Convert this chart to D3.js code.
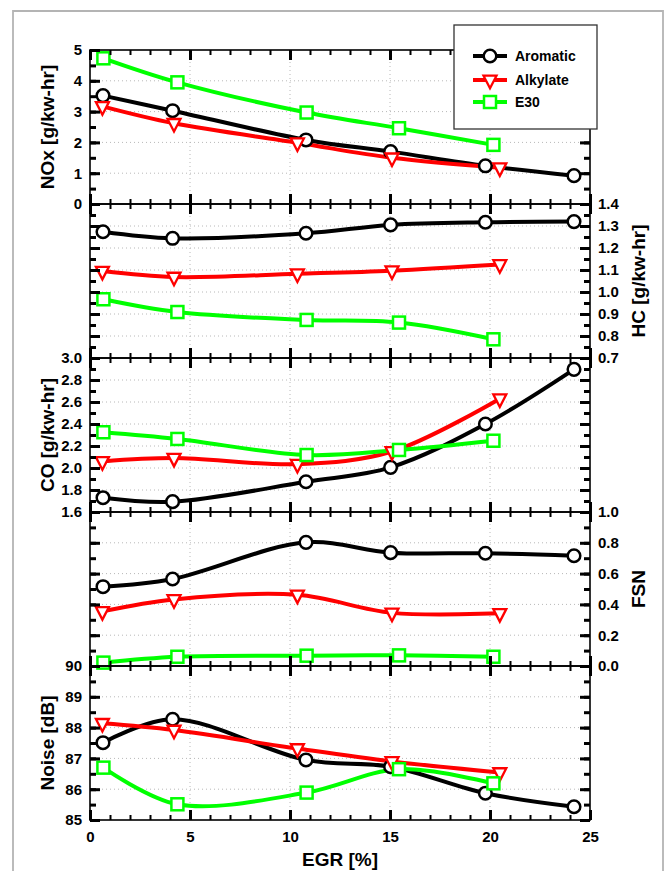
<!DOCTYPE html>
<html>
<head>
<meta charset="utf-8">
<script src="https://cdn.jsdelivr.net/npm/d3@7"></script>
<style>
  body { margin: 0; background: #fff; }
  svg text { font-family: "Liberation Sans", Arial, sans-serif; font-weight: bold; fill: #000; }
</style>
</head>
<body>
<svg id="chart" width="665" height="871"></svg>
<script>
// EGR rate for each fuel's operating points
const egrTicks = [0, 5, 10, 15, 20, 25];
const egrAromatic = [0.65, 4.13, 10.8, 15.03, 19.77, 24.2];
const egrAlkylate = [0.62, 4.2, 10.37, 15.1, 20.49];
const egrE30 = [0.67, 4.37, 10.83, 15.45, 20.17];

// NOx [g/kw-hr]
const noxAromatic = [3.52, 3.03, 2.08, 1.70, 1.24, 0.92];
const noxAlkylate = [3.17, 2.62, 1.99, 1.50, 1.18];
const noxE30 = [4.73, 3.95, 2.97, 2.46, 1.92];

// HC [g/kw-hr]
const hcAromatic = [1.274, 1.244, 1.267, 1.305, 1.317, 1.320];
const hcAlkylate = [1.095, 1.068, 1.083, 1.097, 1.125];
const hcE30 = [0.967, 0.909, 0.873, 0.861, 0.785];

// CO [g/kw-hr]
const coAromatic = [1.73, 1.694, 1.875, 2.006, 2.40, 2.897];
const coAlkylate = [2.06, 2.09, 2.035, 2.15, 2.63];
const coE30 = [2.325, 2.264, 2.118, 2.164, 2.248];

// Filter smoke number
const fsnAromatic = [0.515, 0.565, 0.803, 0.736, 0.732, 0.716];
const fsnAlkylate = [0.355, 0.432, 0.462, 0.345, 0.342];
const fsnE30 = [0.022, 0.06, 0.067, 0.069, 0.06];

// Combustion noise [dB]
const noiseAromatic = [87.51, 88.27, 86.95, 86.73, 85.87, 85.43];
const noiseAlkylate = [88.14, 87.92, 87.32, 86.9, 86.54];
const noiseE30 = [86.7, 85.51, 85.89, 86.65, 86.19];

// Axis tick labels
const noxTicks = [0, 1, 2, 3, 4, 5];
const hcTicks = [0.7, 0.8, 0.9, 1.0, 1.1, 1.2, 1.3, 1.4];
const coTicks = [1.6, 1.8, 2.0, 2.2, 2.4, 2.6, 2.8, 3.0];
const fsnTicks = [0.0, 0.2, 0.4, 0.6, 0.8, 1.0];
const noiseTicks = [85, 86, 87, 88, 89, 90];

const fuels = ["Aromatic", "Alkylate", "E30"];
const fuelColors = ["#000000", "#ff0000", "#00ff00"];
const fuelSymbols = ["circle", "triangle", "square"];
const fuelEgr = [egrAromatic, egrAlkylate, egrE30];

const panels = [
  { title: "NOx [g/kw-hr]", side: "left", ticks: noxTicks, minor: 0.5, fmt: d3.format("d"),
    series: [noxAromatic, noxAlkylate, noxE30] },
  { title: "HC [g/kw-hr]", side: "right", ticks: hcTicks, minor: 0.05, fmt: d3.format(".1f"),
    series: [hcAromatic, hcAlkylate, hcE30] },
  { title: "CO [g/kw-hr]", side: "left", ticks: coTicks, minor: 0.1, fmt: d3.format(".1f"),
    series: [coAromatic, coAlkylate, coE30] },
  { title: "FSN", side: "right", ticks: fsnTicks, minor: 0.1, fmt: d3.format(".1f"),
    series: [fsnAromatic, fsnAlkylate, fsnE30] },
  { title: "Noise [dB]", side: "left", ticks: noiseTicks, minor: 0.5, fmt: d3.format("d"),
    series: [noiseAromatic, noiseAlkylate, noiseE30] }
];

const svg = d3.select("#chart");
const plotLeft = 90, plotRight = 590, plotTop = 50, panelH = 154;

// outer frame of the figure
svg.append("path")
  .attr("d", `M13,871 V11 H663 V871`)
  .attr("fill", "none").attr("stroke", "#b4b4b4").attr("stroke-width", 1.8);

const x = d3.scaleLinear().domain([0, 25]).range([plotLeft, plotRight]);
const xMinor = d3.range(0, 25.01, 1);

function drawSymbol(g, type, cx, cy, color) {
  if (type === "circle") {
    g.append("circle").attr("cx", cx).attr("cy", cy).attr("r", 6.3)
      .attr("fill", "#fff").attr("stroke", color).attr("stroke-width", 2.5);
  } else if (type === "square") {
    g.append("rect").attr("x", cx - 6).attr("y", cy - 6).attr("width", 12).attr("height", 12)
      .attr("fill", "#fff").attr("stroke", color).attr("stroke-width", 2.5);
  } else {
    g.append("path")
      .attr("d", `M${cx - 6.5},${cy - 4.3} L${cx + 6.5},${cy - 4.3} L${cx},${cy + 8.3} Z`)
      .attr("fill", "#fff").attr("stroke", color).attr("stroke-width", 2.3)
      .attr("stroke-linejoin", "miter");
  }
}

function styleAxis(sel, width) {
  sel.select(".domain").remove();
  sel.selectAll(".tick line").attr("stroke", "#000").attr("stroke-width", width);
  sel.selectAll(".tick text").style("font-size", "15px").attr("fill", "#000");
}

panels.forEach((p, i) => {
  const top = plotTop + i * panelH, bottom = top + panelH;
  const dom = [p.ticks[0], p.ticks[p.ticks.length - 1]];
  const y = d3.scaleLinear().domain(dom).range([bottom, top]);
  const minor = d3.range(dom[0], dom[1] + p.minor / 2, p.minor);
  const g = svg.append("g");

  // dotted grid at major ticks
  const grid = g.append("g").attr("stroke", "#b8b8b8").attr("stroke-width", 1)
    .attr("stroke-dasharray", "1,3");
  egrTicks.slice(1, -1).forEach(v => {
    grid.append("line").attr("x1", x(v)).attr("x2", x(v)).attr("y1", top).attr("y2", bottom);
  });
  p.ticks.slice(1, -1).forEach(v => {
    grid.append("line").attr("x1", plotLeft).attr("x2", plotRight).attr("y1", y(v)).attr("y2", y(v));
  });

  // curves and symbols
  p.series.forEach((vals, k) => {
    const pts = vals.map((v, j) => [x(fuelEgr[k][j]), y(v)]);
    g.append("path")
      .attr("d", d3.line().curve(d3.curveCatmullRom.alpha(0.5))(pts))
      .attr("fill", "none").attr("stroke", fuelColors[k]).attr("stroke-width", 4)
      .attr("stroke-linecap", "round");
  });
  p.series.forEach((vals, k) => {
    vals.forEach((v, j) => drawSymbol(g, fuelSymbols[k], x(fuelEgr[k][j]), y(v), fuelColors[k]));
  });

  // panel frame
  g.append("rect").attr("x", plotLeft).attr("y", top)
    .attr("width", plotRight - plotLeft).attr("height", panelH)
    .attr("fill", "none").attr("stroke", "#000").attr("stroke-width", 1.6);

  // x ticks pointing inward on top and bottom edges
  const isLast = i === panels.length - 1;
  g.append("g").attr("transform", `translate(0,${bottom})`)
    .call(d3.axisBottom(x).tickValues(xMinor).tickSize(-5).tickFormat(""))
    .call(s => styleAxis(s, 2));
  g.append("g").attr("transform", `translate(0,${bottom})`)
    .call(d3.axisBottom(x).tickValues(egrTicks).tickSize(-10).tickPadding(11)
      .tickFormat(isLast ? d3.format("d") : ""))
    .call(s => styleAxis(s, 3));
  g.append("g").attr("transform", `translate(0,${top})`)
    .call(d3.axisTop(x).tickValues(xMinor).tickSize(-5).tickFormat(""))
    .call(s => styleAxis(s, 2));
  g.append("g").attr("transform", `translate(0,${top})`)
    .call(d3.axisTop(x).tickValues(egrTicks).tickSize(-10).tickFormat(""))
    .call(s => styleAxis(s, 3));

  // y ticks: labelled side and mirrored side, both pointing inward
  const labLeft = p.side === "left";
  const axLab = labLeft ? d3.axisLeft(y) : d3.axisRight(y);
  const axMir = labLeft ? d3.axisRight(y) : d3.axisLeft(y);
  const xLab = labLeft ? plotLeft : plotRight, xMir = labLeft ? plotRight : plotLeft;
  g.append("g").attr("transform", `translate(${xLab},0)`)
    .call(axLab.tickValues(p.ticks).tickSize(-10).tickPadding(8).tickFormat(p.fmt))
    .call(s => styleAxis(s, 3));
  g.append("g").attr("transform", `translate(${xLab},0)`)
    .call((labLeft ? d3.axisLeft(y) : d3.axisRight(y)).tickValues(minor).tickSize(-6).tickFormat(""))
    .call(s => styleAxis(s, 3));
  g.append("g").attr("transform", `translate(${xMir},0)`)
    .call(axMir.tickValues(p.ticks).tickSize(-10).tickFormat(""))
    .call(s => styleAxis(s, 3));
  g.append("g").attr("transform", `translate(${xMir},0)`)
    .call((labLeft ? d3.axisRight(y) : d3.axisLeft(y)).tickValues(minor).tickSize(-6).tickFormat(""))
    .call(s => styleAxis(s, 3));

  // axis title
  const tx = labLeft ? 47 : 638, ty = (top + bottom) / 2;
  g.append("text").attr("transform", `translate(${tx},${ty}) rotate(-90)`)
    .attr("text-anchor", "middle").attr("dy", "0.35em")
    .style("font-size", "19px").text(p.title);
});

// x axis title
svg.append("text").attr("x", (plotLeft + plotRight) / 2).attr("y", 866)
  .attr("text-anchor", "middle").style("font-size", "19px").text("EGR [%]");

// legend
const lg = svg.append("g");
lg.append("rect").attr("x", 454).attr("y", 25).attr("width", 143).attr("height", 104)
  .attr("fill", "#fff").attr("stroke", "#333").attr("stroke-width", 1.3);
const legendRows = [56, 80, 102];
fuels.forEach((name, k) => {
  const ly = legendRows[k];
  lg.append("line").attr("x1", 473).attr("x2", 507).attr("y1", ly).attr("y2", ly)
    .attr("stroke", fuelColors[k]).attr("stroke-width", 4);
  drawSymbol(lg, fuelSymbols[k], 490, ly, fuelColors[k]);
  lg.append("text").attr("x", 515).attr("y", ly).attr("dy", "0.35em")
    .style("font-size", "14px").text(name);
});
</script>
</body>
</html>
